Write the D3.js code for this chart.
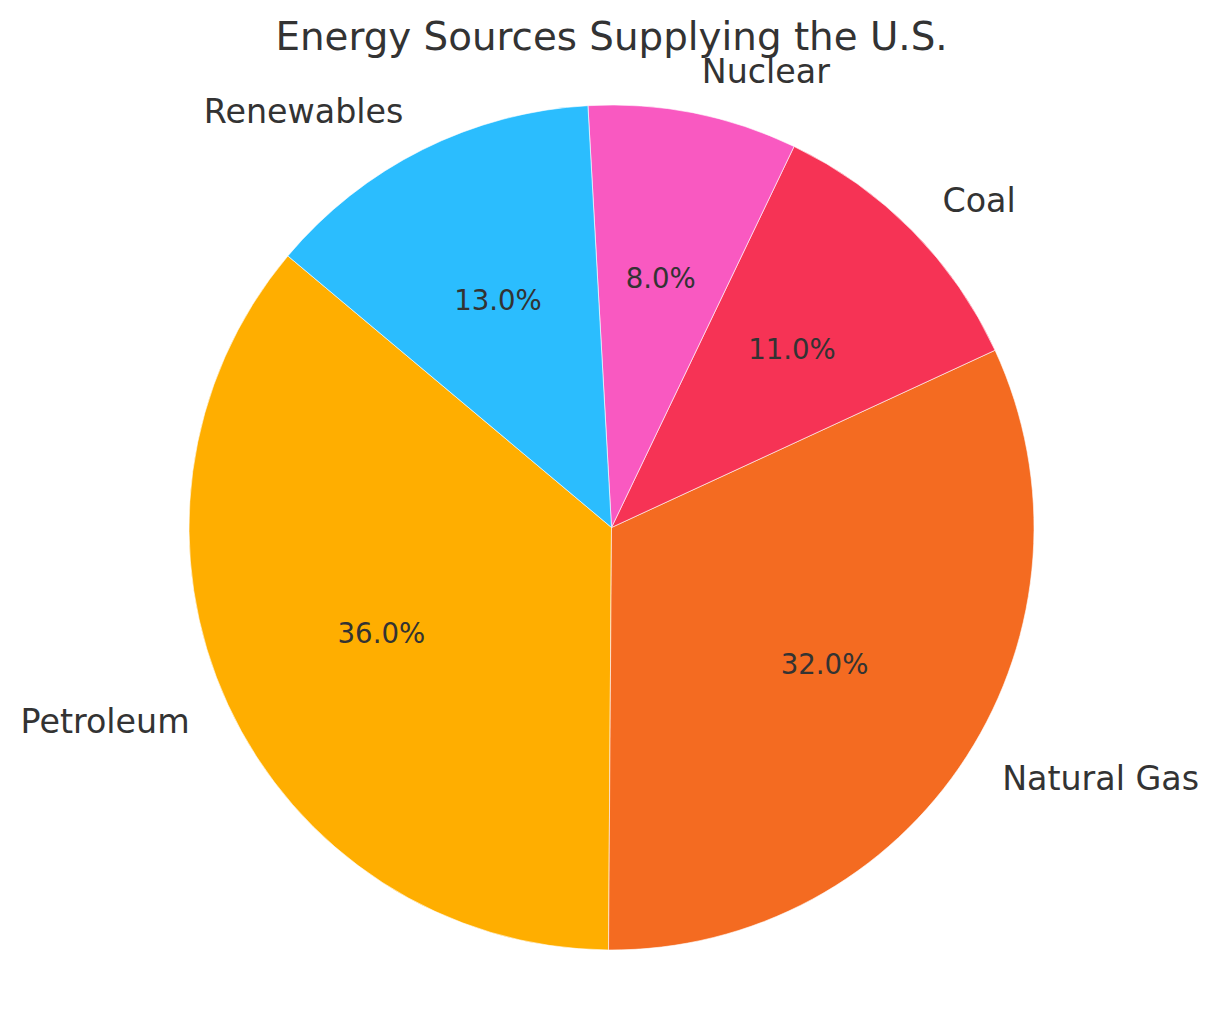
<!DOCTYPE html>
<html>
<head>
<meta charset="utf-8">
<script src="https://cdnjs.cloudflare.com/ajax/libs/d3/7.8.5/d3.min.js"></script>
<style>
  body { margin: 0; background: #fff; }
  text { font-family: "DejaVu Sans", sans-serif; fill: #333333; }
</style>
</head>
<body>
<svg id="chart" width="1219" height="1010"></svg>
<script>
// data, in the order drawn (counter-clockwise from the start angle)
var sources = ["Petroleum", "Natural Gas", "Coal", "Nuclear", "Renewables"];
var shares = [36, 32, 11, 8, 13];
var colors = ["#FFAE00", "#F46B21", "#F63355", "#F959C1", "#2BBDFE"];

var width = 1219, height = 1010;
var cx = 611.5, cy = 527.5, radius = 422.5;
var startDeg = 140; // measured counter-clockwise from 3 o'clock

var svg = d3.select("#chart");

var rad = Math.PI / 180;
var a0 = (90 - startDeg) * rad; // d3 angle: clockwise from 12 o'clock

var pie = d3.pie()
  .sort(null)
  .value(function(d) { return d; })
  .startAngle(a0)
  .endAngle(a0 - 2 * Math.PI);

var arcs = pie(shares);

var arc = d3.arc()
  .innerRadius(0)
  .outerRadius(radius);

var g = svg.append("g")
  .attr("transform", "translate(" + cx + "," + cy + ")");

g.selectAll("path.slice")
  .data(arcs)
  .enter()
  .append("path")
  .attr("class", "slice")
  .attr("d", arc)
  .style("fill", function(d, i) { return colors[i]; })
  .style("stroke", "#ffffff")
  .style("stroke-width", 0.6)
  ;

function pos(d, k) {
  var m = (d.startAngle + d.endAngle) / 2;
  return [Math.sin(m) * radius * k, -Math.cos(m) * radius * k];
}

// category labels at 1.1 r
g.selectAll("text.label")
  .data(arcs)
  .enter()
  .append("text")
  .attr("class", "label")
  .attr("x", function(d) { return pos(d, 1.1)[0]; })
  .attr("y", function(d) { return pos(d, 1.1)[1]; })
  .attr("dy", "0.33em")
  .attr("text-anchor", function(d) { return pos(d, 1.1)[0] > 0 ? "start" : "end"; })
  .style("font-size", "33.3px")
  .text(function(d, i) { return sources[i]; })
  ;

// percentage labels at 0.6 r
var total = d3.sum(shares);
g.selectAll("text.pct")
  .data(arcs)
  .enter()
  .append("text")
  .attr("class", "pct")
  .attr("x", function(d) { return pos(d, 0.6)[0]; })
  .attr("y", function(d) { return pos(d, 0.6)[1]; })
  .attr("dy", "0.34em")
  .attr("text-anchor", "middle")
  .style("font-size", "27.6px")
  .text(function(d) { return (d.value / total * 100).toFixed(1) + "%"; })
  ;

svg.append("text")
  .attr("x", cx)
  .attr("y", 50)
  .attr("text-anchor", "middle")
  .style("font-size", "38.8px")
  .text("Energy Sources Supplying the U.S.");
</script>
</body>
</html>
